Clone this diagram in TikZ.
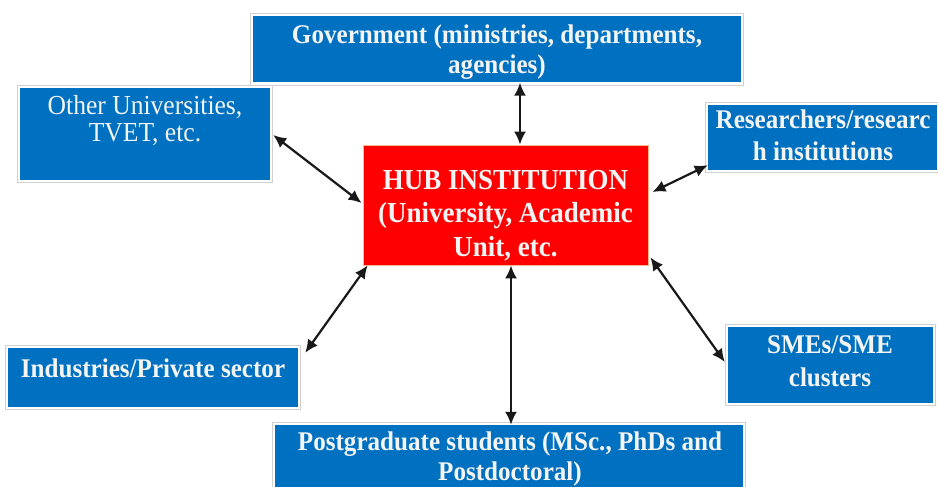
\documentclass[tikz,border=0pt]{standalone}
\usepackage{fontspec}
\setmainfont[FakeStretch=0.93]{Liberation Serif}
\usetikzlibrary{arrows.meta,fit}
\definecolor{boxblue}{HTML}{0070C0}
\definecolor{hubred}{HTML}{FF0000}
\definecolor{txtwhite}{HTML}{F4F4F4}
\definecolor{framegray}{HTML}{D0D0D0}
\definecolor{hubedge}{HTML}{F8B88B}
\tikzset{
  bluebox/.style={rectangle, fill=boxblue, draw=none, inner sep=0pt},
  hubbox/.style={rectangle, fill=hubred, draw=hubedge, line width=0.8pt, inner sep=0pt},
  outerframe/.style={rectangle, draw=framegray, line width=0.6pt, inner sep=2.5pt},
  boxtext/.style={anchor=north, inner sep=0pt, align=center, text=txtwhite,
    font=\bfseries\fontsize{27}{30}\selectfont},
  link/.style={{Latex[length=13pt,width=12pt]}-{Latex[length=13pt,width=12pt]}, line width=2.2pt, black!90}
}
\begin{document}
\begin{tikzpicture}[x=1pt,y=-1pt]
\clip (0,0) rectangle (938,487);
\fill[white] (0,0) rectangle (938,487);
% boxes
\node[bluebox, minimum width=488pt, minimum height=66pt] (gov) at (497,49.5) {};
\node[bluebox, minimum width=250pt, minimum height=92pt] (ou) at (145,134) {};
\node[hubbox, minimum width=285pt, minimum height=120pt] (hub) at (505.5,205) {};
\node[bluebox, minimum width=229pt, minimum height=65pt] (res) at (822.5,137.5) {};
\node[bluebox, minimum width=290pt, minimum height=59pt] (ind) at (153,377.5) {};
\node[bluebox, minimum width=205pt, minimum height=76pt] (sme) at (830.5,365) {};
\node[bluebox, minimum width=468pt, minimum height=80pt] (post) at (509,465) {};
% outer frames
\node[outerframe, fit=(gov)] (govf) {};
\node[outerframe, fit=(ou)] (ouf) {};
\node[outerframe, fit=(res)] (resf) {};
\node[outerframe, fit=(ind)] (indf) {};
\node[outerframe, fit=(sme)] (smef) {};
\node[outerframe, fit=(post)] (postf) {};
% texts
\node[boxtext] (govt) at (497,24.5) {Government (ministries, departments,\\agencies)};
\node[boxtext, font=\mdseries\fontsize{27.5}{27}\selectfont] (out) at (145,95) {Other Universities,\\TVET, etc.};
\node[boxtext, font=\bfseries\fontsize{29}{33.5}\selectfont] (hubt) at (505.5,170) {HUB INSTITUTION\\(University, Academic\\Unit, etc.};
\node[boxtext, font=\bfseries\fontsize{27}{32}\selectfont] (rest) at (823,109.5) {Researchers/researc\\h institutions};
\node[boxtext] (indt) at (153,358.5) {Industries/Private sector};
\node[boxtext, font=\bfseries\fontsize{27}{33}\selectfont] (smet) at (830,335) {SMEs/SME\\clusters};
\node[boxtext] (postt) at (510,431.5) {Postgraduate students (MSc., PhDs and\\Postdoctoral)};
% connectors
\draw[link] ([xshift=23pt]gov.south) -- ([xshift=14.5pt]hub.north);
\draw[link] ([xshift=3pt,yshift=-1pt]ou.east) -- ([xshift=-1pt,yshift=2pt]hub.west);
\draw[link] ([yshift=5pt]res.south west) -- ([xshift=4pt,yshift=13pt]hub.east);
\draw[link] ([xshift=5pt]hub.south west) -- ([xshift=7pt,yshift=-5pt]ind.north east);
\draw[link] ([xshift=2pt,yshift=8pt]hub.south east) -- ([xshift=-3pt,yshift=3pt]sme.west);
\draw[link] ([xshift=5.5pt]hub.south) -- ([xshift=2pt]post.north);
\end{tikzpicture}
\end{document}
